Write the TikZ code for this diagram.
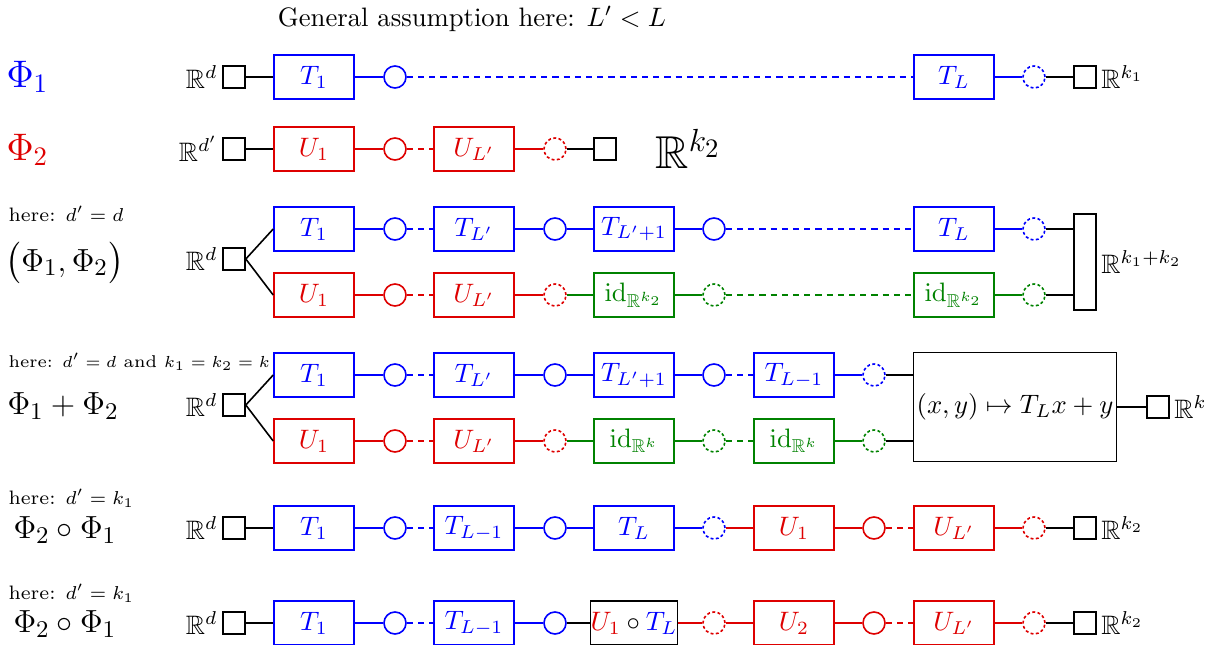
\documentclass[tikz,border=0pt]{standalone}
\usepackage{xcolor}
\usepackage{amsmath,amssymb}
\usepackage{tikz}
\usetikzlibrary{positioning}
\definecolor{netblue}{RGB}{0,0,255}
\definecolor{netred}{RGB}{222,0,0}
\definecolor{netgreen}{RGB}{0,130,0}
\tikzset{
  netbox/.style={rectangle,draw,line width=0.6pt,minimum width=30pt,
    minimum height=16.5pt,inner sep=1pt},
  tbox/.style={netbox,draw=netblue,text=netblue},
  ubox/.style={netbox,draw=netred,text=netred},
  idbox/.style={netbox,draw=netgreen,text=netgreen},
  actnode/.style={circle,draw,line width=0.6pt,minimum size=8.25pt,inner sep=0pt},
  outact/.style={actnode,dash pattern=on 1.1pt off 0.9pt},
  portbox/.style={rectangle,draw=black,line width=0.6pt,minimum size=8.25pt,inner sep=0pt},
  wire/.style={line width=0.6pt},
  skipwire/.style={wire,dash pattern=on 2.3pt off 1.9pt},
  dimlabel/.style={inner sep=1.5pt},
  note/.style={font=\fontsize{7.3}{9}\selectfont,anchor=west,inner sep=0pt},
  netname/.style={anchor=west,inner sep=0pt},
  opname/.style={netname,font=\fontsize{13}{15}\selectfont},
}

\begin{document}
\begin{tikzpicture}[x=0.375pt,y=-0.375pt]
  \useasboundingbox (0,0) rectangle (1220,645);
  \node (title) at (472,19) {General assumption here: $L'<L$};

  % Phi_1
  \node[netname,font=\Large,text=netblue] (n1) at (6,77) {$\Phi_1$};
  \node[portbox] (r1in) at (234,77) {};
  \node[dimlabel,left=0pt of r1in] (r1dim) {$\mathbb{R}^d$};
  \node[tbox] (r1t1) at (314,77) {$T_1$};
  \node[actnode,draw=netblue] (r1a1) at (395,77) {};
  \node[tbox] (r1tL) at (954,77) {$T_L$};
  \node[outact,draw=netblue] (r1aL) at (1034,77) {};
  \node[portbox] (r1out) at (1085,77) {};
  \node[dimlabel,right=0pt of r1out] (r1cod) {$\mathbb{R}^{k_1}$};
  \draw[wire] (r1in) -- (r1t1) (r1aL) -- (r1out);
  \draw[wire,netblue] (r1t1) -- (r1a1) (r1tL) -- (r1aL);
  \draw[skipwire,netblue] (r1a1) -- (r1tL);

  % Phi_2
  \node[netname,font=\Large,text=netred] (n2) at (6,150) {$\Phi_2$};
  \node[portbox] (r2in) at (234,149) {};
  \node[dimlabel,left=0pt of r2in] (r2dim) {$\mathbb{R}^{d'}$};
  \node[ubox] (r2u1) at (314,149) {$U_1$};
  \node[actnode,draw=netred] (r2a1) at (395,149) {};
  \node[ubox] (r2uL) at (474,149) {$U_{L'}$};
  \node[outact,draw=netred] (r2aL) at (555,149) {};
  \node[portbox] (r2out) at (605,149) {};
  \node[netname,font=\LARGE] (r2cod) at (655,149) {$\mathbb{R}^{k_2}$};
  \draw[wire] (r2in) -- (r2u1) (r2aL) -- (r2out);
  \draw[wire,netred] (r2u1) -- (r2a1) (r2uL) -- (r2aL);
  \draw[skipwire,netred] (r2a1) -- (r2uL);

  % parallelization
  \node[note] (h3) at (8,214) {here: $d'=d$};
  \node[opname] (n3) at (5,263) {$\bigl(\Phi_1,\Phi_2\bigr)$};
  \node[portbox] (r3in) at (234,259) {};
  \node[dimlabel,left=0pt of r3in] (r3dim) {$\mathbb{R}^d$};
  \node[tbox] (r3t1) at (314,229) {$T_1$};
  \node[actnode,draw=netblue] (r3ta1) at (395,229) {};
  \node[tbox] (r3tM) at (474,229) {$T_{L'}$};
  \node[actnode,draw=netblue] (r3taM) at (555,229) {};
  \node[tbox] (r3tN) at (634,229) {$T_{L'+1}$};
  \node[actnode,draw=netblue] (r3taN) at (714,229) {};
  \node[tbox] (r3tL) at (954,229) {$T_L$};
  \node[outact,draw=netblue] (r3taL) at (1034,229) {};
  \node[ubox] (r3u1) at (314,295) {$U_1$};
  \node[actnode,draw=netred] (r3ua1) at (395,295) {};
  \node[ubox] (r3uM) at (474,295) {$U_{L'}$};
  \node[outact,draw=netred] (r3uaM) at (555,295) {};
  \node[idbox] (r3id1) at (634,295) {$\mathrm{id}_{\mathbb{R}^{k_2}}$};
  \node[outact,draw=netgreen] (r3ia1) at (714,295) {};
  \node[idbox] (r3id2) at (954,295) {$\mathrm{id}_{\mathbb{R}^{k_2}}$};
  \node[outact,draw=netgreen] (r3ia2) at (1034,295) {};
  \node[portbox,minimum height=36pt] (r3cat) at (1085,262) {};
  \node[dimlabel,right=0pt of r3cat] (r3cod) {$\mathbb{R}^{k_1+k_2}$};
  \draw[wire] (r3in.east) -- (r3t1.west) (r3in.east) -- (r3u1.west);
  \draw[wire] (r3taL) -- (r3taL -| r3cat.west) (r3ia2) -- (r3ia2 -| r3cat.west);
  \draw[wire,netblue] (r3t1) -- (r3ta1) (r3tM) -- (r3taM) -- (r3tN) -- (r3taN)
    (r3tL) -- (r3taL);
  \draw[skipwire,netblue] (r3ta1) -- (r3tM) (r3taN) -- (r3tL);
  \draw[wire,netred] (r3u1) -- (r3ua1) (r3uM) -- (r3uaM);
  \draw[skipwire,netred] (r3ua1) -- (r3uM);
  \draw[wire,netgreen] (r3uaM) -- (r3id1) -- (r3ia1) (r3id2) -- (r3ia2);
  \draw[skipwire,netgreen] (r3ia1) -- (r3id2);

  % sum
  \node[note,font=\fontsize{6.4}{8}\selectfont] (h4) at (8,362)
    {here: $d'=d$ and $k_1=k_2=k$};
  \node[opname] (n4) at (7,406) {$\Phi_1+\Phi_2$};
  \node[portbox] (r4in) at (234,405) {};
  \node[dimlabel,left=0pt of r4in] (r4dim) {$\mathbb{R}^d$};
  \node[tbox] (r4t1) at (314,375) {$T_1$};
  \node[actnode,draw=netblue] (r4ta1) at (395,375) {};
  \node[tbox] (r4tM) at (474,375) {$T_{L'}$};
  \node[actnode,draw=netblue] (r4taM) at (555,375) {};
  \node[tbox] (r4tN) at (634,375) {$T_{L'+1}$};
  \node[actnode,draw=netblue] (r4taN) at (714,375) {};
  \node[tbox] (r4tK) at (794,375) {$T_{L-1}$};
  \node[outact,draw=netblue] (r4taK) at (874,375) {};
  \node[ubox] (r4u1) at (314,441) {$U_1$};
  \node[actnode,draw=netred] (r4ua1) at (395,441) {};
  \node[ubox] (r4uM) at (474,441) {$U_{L'}$};
  \node[outact,draw=netred] (r4uaM) at (555,441) {};
  \node[idbox] (r4id1) at (634,441) {$\mathrm{id}_{\mathbb{R}^k}$};
  \node[outact,draw=netgreen] (r4ia1) at (714,441) {};
  \node[idbox] (r4id2) at (794,441) {$\mathrm{id}_{\mathbb{R}^k}$};
  \node[outact,draw=netgreen] (r4ia2) at (874,441) {};
  \node[portbox,minimum width=76pt,minimum height=41pt,inner sep=1pt] (r4sum)
    at (1015,407) {$(x,y)\mapsto T_Lx+y$};
  \node[portbox] (r4out) at (1158,407) {};
  \node[dimlabel,right=0pt of r4out] (r4cod) {$\mathbb{R}^k$};
  \draw[wire] (r4in.east) -- (r4t1.west) (r4in.east) -- (r4u1.west);
  \draw[wire] (r4taK) -- (r4taK -| r4sum.west) (r4ia2) -- (r4ia2 -| r4sum.west)
    (r4sum) -- (r4out);
  \draw[wire,netblue] (r4t1) -- (r4ta1) (r4tM) -- (r4taM) -- (r4tN) -- (r4taN)
    (r4tK) -- (r4taK);
  \draw[skipwire,netblue] (r4ta1) -- (r4tM) (r4taN) -- (r4tK);
  \draw[wire,netred] (r4u1) -- (r4ua1) (r4uM) -- (r4uaM);
  \draw[skipwire,netred] (r4ua1) -- (r4uM);
  \draw[wire,netgreen] (r4uaM) -- (r4id1) -- (r4ia1) (r4id2) -- (r4ia2);
  \draw[skipwire,netgreen] (r4ia1) -- (r4id2);

  % composition
  \node[note] (h5) at (8,498) {here: $d'=k_1$};
  \node[opname] (n5) at (13,530) {$\Phi_2\circ\Phi_1$};
  \node[portbox] (r5in) at (234,528) {};
  \node[dimlabel,left=0pt of r5in] (r5dim) {$\mathbb{R}^d$};
  \node[tbox] (r5t1) at (314,528) {$T_1$};
  \node[actnode,draw=netblue] (r5ta1) at (395,528) {};
  \node[tbox] (r5tK) at (474,528) {$T_{L-1}$};
  \node[actnode,draw=netblue] (r5taK) at (555,528) {};
  \node[tbox] (r5tL) at (634,528) {$T_L$};
  \node[outact,draw=netblue] (r5taL) at (714,528) {};
  \node[ubox] (r5u1) at (794,528) {$U_1$};
  \node[actnode,draw=netred] (r5ua1) at (874,528) {};
  \node[ubox] (r5uM) at (954,528) {$U_{L'}$};
  \node[outact,draw=netred] (r5uaM) at (1034,528) {};
  \node[portbox] (r5out) at (1085,528) {};
  \node[dimlabel,right=0pt of r5out] (r5cod) {$\mathbb{R}^{k_2}$};
  \draw[wire] (r5in) -- (r5t1) (r5uaM) -- (r5out);
  \draw[wire,netblue] (r5t1) -- (r5ta1) (r5tK) -- (r5taK) -- (r5tL) -- (r5taL);
  \draw[skipwire,netblue] (r5ta1) -- (r5tK);
  \draw[wire,netred] (r5taL) -- (r5u1) -- (r5ua1) (r5uM) -- (r5uaM);
  \draw[skipwire,netred] (r5ua1) -- (r5uM);

  % composition, merged layer
  \node[note] (h6) at (8,593) {here: $d'=k_1$};
  \node[opname] (n6) at (13,624) {$\Phi_2\circ\Phi_1$};
  \node[portbox] (r6in) at (234,623) {};
  \node[dimlabel,left=0pt of r6in] (r6dim) {$\mathbb{R}^d$};
  \node[tbox] (r6t1) at (314,623) {$T_1$};
  \node[actnode,draw=netblue] (r6ta1) at (395,623) {};
  \node[tbox] (r6tK) at (474,623) {$T_{L-1}$};
  \node[actnode,draw=netblue] (r6taK) at (555,623) {};
  \node[netbox,inner sep=0pt] (r6mix) at (634,623)
    {$\textcolor{netred}{U_1}\circ\textcolor{netblue}{T_L}$};
  \node[outact,draw=netred] (r6ma) at (714,623) {};
  \node[ubox] (r6u2) at (794,623) {$U_2$};
  \node[actnode,draw=netred] (r6ua2) at (874,623) {};
  \node[ubox] (r6uM) at (954,623) {$U_{L'}$};
  \node[outact,draw=netred] (r6uaM) at (1034,623) {};
  \node[portbox] (r6out) at (1085,623) {};
  \node[dimlabel,right=0pt of r6out] (r6cod) {$\mathbb{R}^{k_2}$};
  \draw[wire] (r6in) -- (r6t1) (r6taK) -- (r6mix) (r6uaM) -- (r6out);
  \draw[wire,netblue] (r6t1) -- (r6ta1) (r6tK) -- (r6taK);
  \draw[skipwire,netblue] (r6ta1) -- (r6tK);
  \draw[wire,netred] (r6mix) -- (r6ma) -- (r6u2) -- (r6ua2) (r6uM) -- (r6uaM);
  \draw[skipwire,netred] (r6ua2) -- (r6uM);
\end{tikzpicture}
\end{document}
